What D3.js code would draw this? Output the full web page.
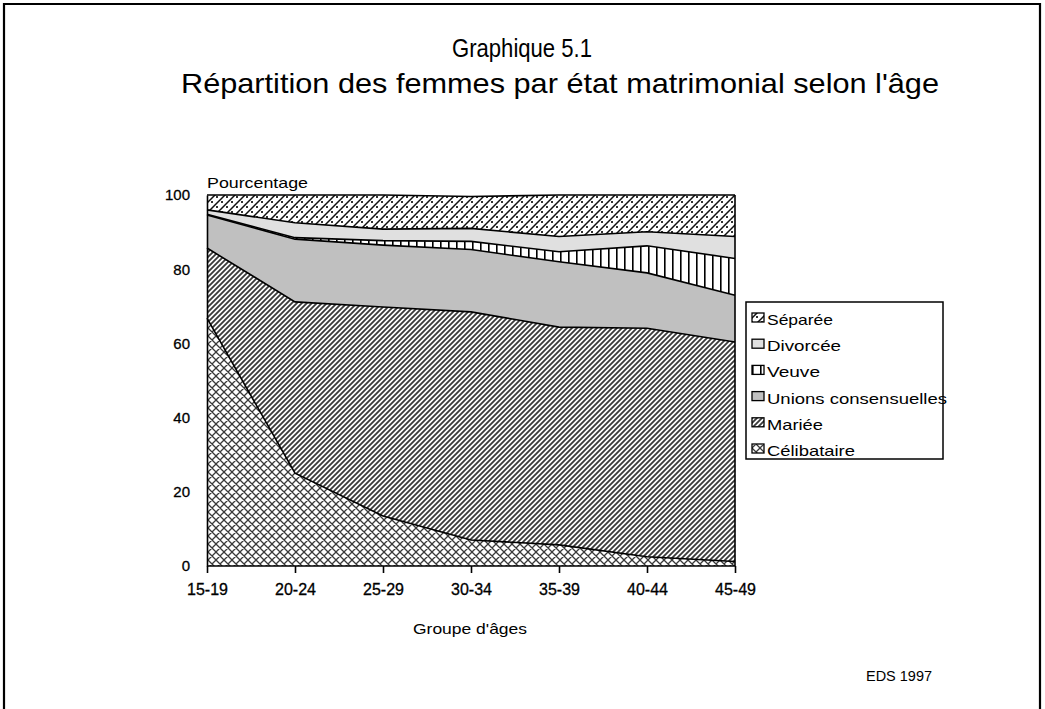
<!DOCTYPE html>
<html><head><meta charset="utf-8">
<script src="https://cdn.jsdelivr.net/npm/d3@7"></script>
<style>
html,body{margin:0;padding:0;background:#fff;}
svg{display:block;font-family:"Liberation Sans",Arial,sans-serif;}
</style></head>
<body>
<svg id="chart" width="1045" height="709"></svg>
<script>
// ---- data ----
const ageGroups = ["15-19","20-24","25-29","30-34","35-39","40-44","45-49"];
const celibataire = [66.8, 25.0, 13.5, 7.0, 5.7, 2.5, 1.2];
const mariee      = [18.9, 46.2, 56.3, 61.5, 58.7, 61.6, 59.2];
const unions      = [ 8.9, 16.9, 16.7, 16.8, 17.6, 14.9, 12.6];
const veuve       = [ 0.2,  0.4,  1.2,  2.2,  2.7,  7.3,  9.9];
const divorcee    = [ 1.2,  4.0,  3.1,  3.5,  4.1,  3.8,  5.9];
const separee     = [ 4.0,  7.5,  9.2,  8.6, 11.2,  9.9, 11.2];
const seriesNames = ["Célibataire","Mariée","Unions consensuelles","Veuve","Divorcée","Séparée"];
const yTicks = [0,20,40,60,80,100];
const legendOrder = ["Séparée","Divorcée","Veuve","Unions consensuelles","Mariée","Célibataire"];

const seriesValues = [celibataire, mariee, unions, veuve, divorcee, separee];
const rows = ageGroups.map((g,i)=>{
  const r = {age:g};
  seriesNames.forEach((n,k)=>{ r[n] = seriesValues[k][i]; });
  return r;
});

const svg = d3.select("#chart");
const defs = svg.append("defs");

// patterns
function pat(id, w, h, bg){
  const p = defs.append("pattern").attr("id",id).attr("patternUnits","userSpaceOnUse")
    .attr("width",w).attr("height",h);
  p.append("rect").attr("width",w).attr("height",h).attr("fill",bg);
  return p;
}
let p = pat("pCel",8,8,"#fff");
p.append("path").attr("d","M0,0L8,8M8,0L0,8M-1,7L1,9M7,-1L9,1M-1,1L1,-1M7,9L9,7")
  .attr("stroke","#3a3a3a").attr("stroke-width",1.3).attr("fill","none");
p = pat("pMar",5,5,"#fff");
p.append("path").attr("d","M-1,6L6,-1M-1,1L1,-1M4,6L6,4")
  .attr("stroke","#3a3a3a").attr("stroke-width",1.8).attr("fill","none");
p = pat("pUni",4,4,"#c0c0c0");
p = pat("pVeu",8,8,"#fff");
p.append("rect").attr("x",0).attr("y",0).attr("width",1.6).attr("height",8).attr("fill","#000");
p = pat("pDiv",4,4,"#e0e0e0");
p = pat("pSep",10,10,"#fff");
p.append("path").attr("d","M-1,11L11,-1M-1,1L1,-1M9,11L11,9")
  .attr("stroke","#111").attr("stroke-width",1.5).attr("fill","none");
p.append("rect").attr("x",6).attr("y",6).attr("width",2).attr("height",2).attr("fill","#333");
p.append("rect").attr("x",1).attr("y",1).attr("width",2).attr("height",2).attr("fill","#333");

const fills = {
  "Célibataire":"url(#pCel)","Mariée":"url(#pMar)","Unions consensuelles":"url(#pUni)",
  "Veuve":"url(#pVeu)","Divorcée":"url(#pDiv)","Séparée":"url(#pSep)"
};

// outer frame
svg.append("path").attr("d","M4,712V4H1040V712").attr("fill","none").attr("stroke","#000").attr("stroke-width",2.2);

// title
svg.append("text").attr("x",522).attr("y",57).attr("text-anchor","middle")
  .attr("font-size",26).attr("textLength",140).attr("lengthAdjust","spacingAndGlyphs").text("Graphique 5.1");
svg.append("text").attr("x",560).attr("y",93).attr("text-anchor","middle")
  .attr("font-size",28).attr("textLength",758).attr("lengthAdjust","spacingAndGlyphs")
  .text("Répartition des femmes par état matrimonial selon l'âge");

const x0 = 207, x1 = 735, yTop = 195, yBot = 566;
const x = d3.scalePoint().domain(ageGroups).range([x0,x1]);
const y = d3.scaleLinear().domain([0,100]).range([yBot,yTop]);

const stack = d3.stack().keys(seriesNames);
const layers = stack(rows);
const area = d3.area().x(d=>x(d.data.age)).y0(d=>y(d[0])).y1(d=>y(d[1]));
const line = d3.line().x(d=>x(d.data.age)).y(d=>y(d[1]));

const g = svg.append("g");
g.selectAll("path.layer").data(layers).join("path").attr("class","layer")
  .attr("d",area).attr("fill",d=>fills[d.key]).attr("stroke","none");
g.selectAll("path.edge").data(layers).join("path").attr("class","edge")
  .attr("d",line).attr("fill","none").attr("stroke","#000").attr("stroke-width",1.6);
g.append("line").attr("x1",x1).attr("x2",x1).attr("y1",yTop).attr("y2",yBot)
  .attr("stroke","#000").attr("stroke-width",1.6);

// axes
const yAxis = d3.axisLeft(y).tickValues(yTicks).tickSize(0).tickPadding(17);
const ya = svg.append("g").attr("transform",`translate(${x0},0)`).call(yAxis);
ya.select(".domain").attr("stroke","#000").attr("stroke-width",1.6);
ya.selectAll("text").attr("font-size",15).attr("font-family","Liberation Sans, Arial, sans-serif")
  .attr("fill","#000").attr("stroke","#000").attr("stroke-width",0.3);

const xAxis = d3.axisBottom(x).tickSize(7).tickPadding(11);
const xa = svg.append("g").attr("transform",`translate(0,${yBot})`).call(xAxis);
xa.select(".domain").attr("stroke","#000").attr("stroke-width",1.6).attr("d",`M${x0},0H${x1}`);
xa.selectAll(".tick line").attr("stroke","#000").attr("stroke-width",1.6);
xa.selectAll("text").attr("font-size",16).attr("font-family","Liberation Sans, Arial, sans-serif")
  .attr("fill","#000").attr("stroke","#000").attr("stroke-width",0.3);

svg.append("text").attr("x",x0).attr("y",188).attr("font-size",15)
  .attr("textLength",101).attr("lengthAdjust","spacingAndGlyphs").text("Pourcentage");
svg.append("text").attr("x",470).attr("y",634).attr("text-anchor","middle").attr("font-size",15)
  .attr("textLength",114).attr("lengthAdjust","spacingAndGlyphs").text("Groupe d'âges");
svg.append("text").attr("x",899).attr("y",681).attr("text-anchor","middle").attr("font-size",15)
  .attr("textLength",66).attr("lengthAdjust","spacingAndGlyphs").text("EDS 1997");

// legend
const legendWidths = {"Séparée":66,"Divorcée":74,"Veuve":53,"Unions consensuelles":180,"Mariée":56,"Célibataire":88};
const lg = svg.append("g");
lg.append("rect").attr("x",746).attr("y",302).attr("width",197).attr("height",157)
  .attr("fill","#fff").attr("stroke","#000").attr("stroke-width",1.5);
legendOrder.forEach((n,i)=>{
  const cy = 319 + i*26.2;
  lg.append("rect").attr("x",752).attr("y",cy-6).attr("width",12).attr("height",9)
    .attr("fill",fills[n]).attr("stroke","#000").attr("stroke-width",1.3);
  lg.append("text").attr("x",767).attr("y",cy+6).attr("font-size",15)
    .attr("textLength",legendWidths[n]).attr("lengthAdjust","spacingAndGlyphs").text(n);
});
</script>
</body></html>
